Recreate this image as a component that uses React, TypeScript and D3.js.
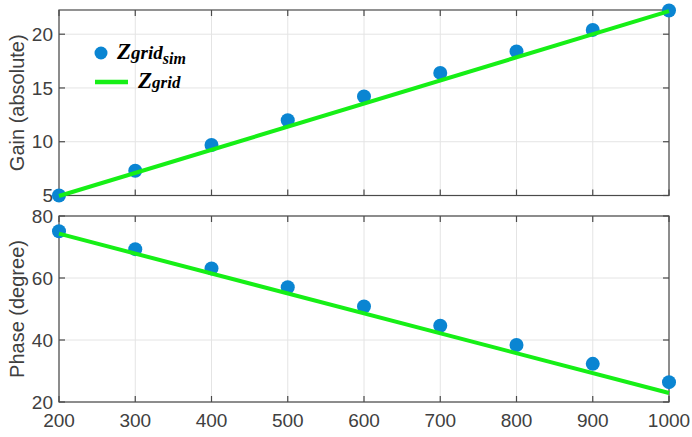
import React from "react";
import * as d3 from "d3";

const freqs = [200, 300, 400, 500, 600, 700, 800, 900, 1000];
const gainSim = [5.0, 7.3, 9.7, 12.0, 14.2, 16.4, 18.4, 20.4, 22.2];
const gainLineX = [200, 1000];
const gainLine = [4.95, 22.15];
const phaseSim = [75.1, 69.3, 63.1, 57.0, 50.8, 44.6, 38.4, 32.3, 26.4];
const phaseLineX = [200, 1000];
const phaseLine = [74.3, 22.9];
const xTicks = [200, 300, 400, 500, 600, 700, 800, 900, 1000];
const gainTicks = [5, 10, 15, 20];
const phaseTicks = [20, 40, 60, 80];

const W = 692, H = 437;
const BLUE = "#0a85d2";
const GREEN = "#16ef16";
const AXIS = "#4a4a4a";
const GRID = "#e4e4e4";
const TXT = "#404040";
const FONT = "'Liberation Sans', Arial, Helvetica, sans-serif";

const x = d3.scaleLinear().domain([200, 1000]).range([59, 669]);
const yTop = d3.scaleLinear().domain([5, 22.25]).range([195.5, 10]);
const yBot = d3.scaleLinear().domain([20, 80]).range([402, 216]);

function Panel({ y, yTicksArr, sim, lineX, lineY, label, showX }: any) {
  const [y0, y1] = y.range();
  const x0 = x.range()[0], x1 = x.range()[1];
  const line = d3.line<number>().x((_, i) => x(lineX[i])).y((d) => y(d));
  const tl = 6;
  return (
    <g>
      {xTicks.map((t) => (
        <line key={"gx" + t} x1={x(t)} x2={x(t)} y1={y1} y2={y0} stroke={GRID} strokeWidth={1} />
      ))}
      {yTicksArr.map((t: number) => (
        <line key={"gy" + t} x1={x0} x2={x1} y1={y(t)} y2={y(t)} stroke={GRID} strokeWidth={1} />
      ))}
      <rect x={x0} y={y1} width={x1 - x0} height={y0 - y1} fill="none" stroke={AXIS} strokeWidth={1.2} />
      {xTicks.map((t) => (
        <g key={"tx" + t}>
          <line x1={x(t)} x2={x(t)} y1={y0} y2={y0 - tl} stroke={AXIS} strokeWidth={1.2} />
          <line x1={x(t)} x2={x(t)} y1={y1} y2={y1 + tl} stroke={AXIS} strokeWidth={1.2} />
        </g>
      ))}
      {yTicksArr.map((t: number) => (
        <g key={"ty" + t}>
          <line x1={x0} x2={x0 + tl} y1={y(t)} y2={y(t)} stroke={AXIS} strokeWidth={1.2} />
          <line x1={x1} x2={x1 - tl} y1={y(t)} y2={y(t)} stroke={AXIS} strokeWidth={1.2} />
          <text x={x0 - 6} y={y(t)} dy="0.35em" textAnchor="end" fontSize={19} fill={TXT} fontFamily={FONT}>
            {t}
          </text>
        </g>
      ))}
      {showX &&
        xTicks.map((t) => (
          <text key={"lx" + t} x={x(t)} y={427} textAnchor="middle" fontSize={19} fill={TXT} fontFamily={FONT}>
            {t}
          </text>
        ))}
      <text
        transform={`translate(24,${(y0 + y1) / 2}) rotate(-90)`}
        textAnchor="middle"
        fontSize={20}
        fill={TXT}
        fontFamily={FONT}
      >
        {label}
      </text>
      {sim.map((v: number, i: number) => (
        <circle key={"m" + i} cx={x(freqs[i])} cy={y(v)} r={7} fill={BLUE} />
      ))}
      <path d={line(lineY) || ""} fill="none" stroke={GREEN} strokeWidth={4} />
    </g>
  );
}

export default function App() {
  const serif = "'Liberation Serif', 'Times New Roman', serif";
  return (
    <svg width={W} height={H} style={{ position: "absolute", left: 0, top: 0, background: "#fff" }}>
      <rect x={0} y={0} width={W} height={H} fill="#fff" />
      <Panel y={yTop} yTicksArr={gainTicks} sim={gainSim} lineX={gainLineX} lineY={gainLine} label="Gain (absolute)" showX={false} />
      <Panel y={yBot} yTicksArr={phaseTicks} sim={phaseSim} lineX={phaseLineX} lineY={phaseLine} label="Phase (degree)" showX={true} />
      {/* legend */}
      <circle cx={101} cy={53} r={6.5} fill={BLUE} />
      <text x={117} y={59} fontFamily={serif} fontWeight="bold" fontStyle="italic" fill="#000">
        <tspan fontSize={23}>Z</tspan>
        <tspan fontSize={19}>grid</tspan>
        <tspan fontSize={16} dy={5}>sim</tspan>
      </text>
      <line x1={95} x2={128} y1={82} y2={82} stroke={GREEN} strokeWidth={4.5} />
      <text x={138} y={88} fontFamily={serif} fontWeight="bold" fontStyle="italic" fill="#000">
        <tspan fontSize={23}>Z</tspan>
        <tspan fontSize={17}>grid</tspan>
      </text>
    </svg>
  );
}
